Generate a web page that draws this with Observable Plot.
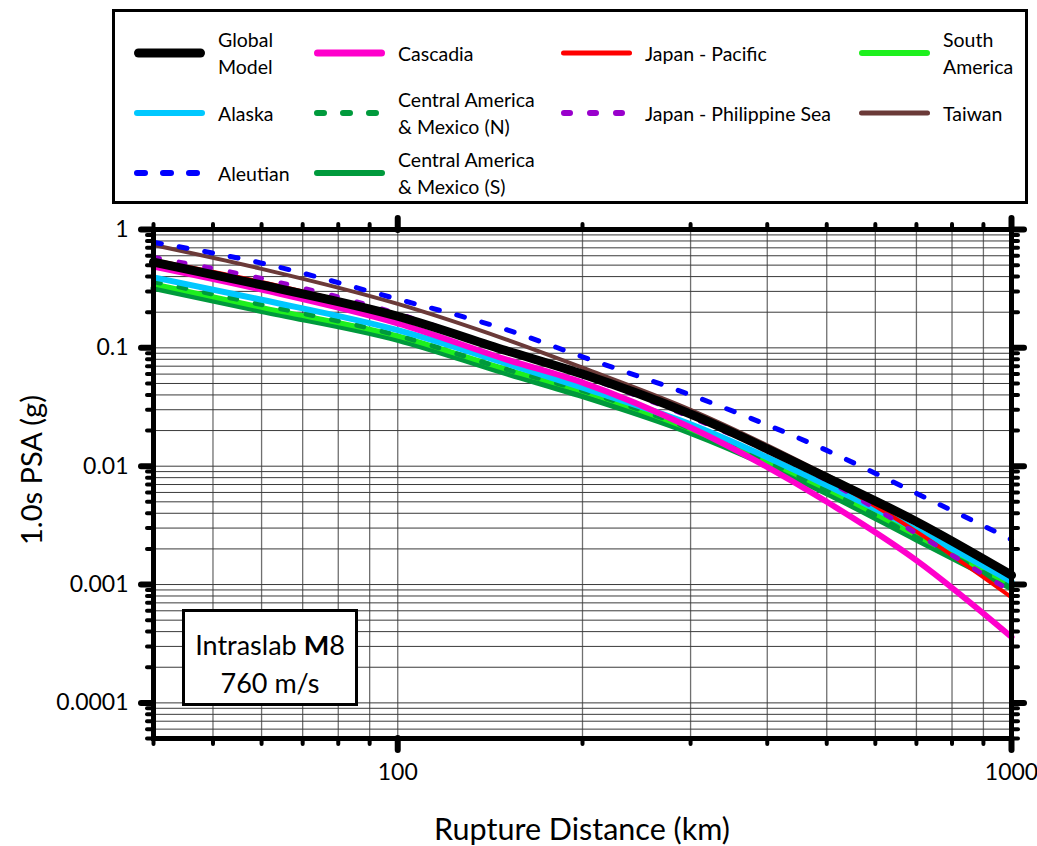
<!DOCTYPE html>
<html>
<head>
<meta charset="utf-8">
<script src="https://cdn.jsdelivr.net/npm/d3@7"></script>
<script src="https://cdn.jsdelivr.net/npm/@observablehq/plot@0.6"></script>
<style>
  body { margin: 0; background: #fff; font-family: Lato, "Open Sans", sans-serif; }
  #wrap { position: relative; width: 1037px; height: 846px; overflow: hidden; background: #fff; }
  #wrap svg.plot { position: absolute; left: 0; top: 0; }
  #legend { position: absolute; left: 112px; top: 9px; width: 910px; height: 189px; border: 3px solid #000; box-sizing: content-box; background: #fff; }
  .item { position: absolute; height: 0; }
  .item svg { position: absolute; left: 0; top: -8px; }
  .item .lab { position: absolute; left: 85px; transform: translateY(-50%); font-size: 19.5px; line-height: 27px; white-space: nowrap; color: #000; }
  #note { position: absolute; left: 182px; top: 609px; width: 170px; border: 3px solid #000; background: #fff; text-align: center; font-size: 27px; line-height: 38px; padding-top: 14px; height: 77px; box-sizing: content-box; }
  #xlab { position: absolute; left: 0; width: 1164px; top: 810px; text-align: center; font-size: 30.5px; }
  #ylab { position: absolute; left: 30px; top: 470px; transform: translate(-50%, -50%) rotate(-90deg); font-size: 29px; white-space: nowrap; }
</style>
</head>
<body>
<div id="wrap"></div>
<script>
// ---- data ----
const distances = [40, 60, 100, 150, 200, 300, 500, 700, 1000];
const globalModel     = [0.53, 0.34, 0.185, 0.095, 0.060, 0.0275, 0.0080, 0.0034, 0.00120];
const alaska          = [0.394, 0.255, 0.141, 0.074, 0.046, 0.0226, 0.0069, 0.0029, 0.00106];
const aleutian        = [0.78, 0.52, 0.258, 0.143, 0.084, 0.040, 0.0136, 0.0059, 0.0024];
const cascadia        = [0.486, 0.31, 0.161, 0.080, 0.0508, 0.0212, 0.0050, 0.0016, 0.00036];
const camNorth        = [0.363, 0.232, 0.127, 0.066, 0.0435, 0.0207, 0.0063, 0.0025, 0.00095];
const camSouth        = [0.32, 0.205, 0.117, 0.061, 0.039, 0.0191, 0.0059, 0.0024, 0.00093];
const japanPacific    = [0.55, 0.36, 0.185, 0.093, 0.058, 0.0278, 0.0079, 0.0028, 0.00078];
const japanPhilippine = [0.58, 0.385, 0.194, 0.095, 0.058, 0.026, 0.0076, 0.0027, 0.00087];
const southAmerica    = [0.347, 0.22, 0.126, 0.066, 0.043, 0.0205, 0.0064, 0.0026, 0.00100];
const taiwan          = [0.74, 0.465, 0.235, 0.118, 0.068, 0.030, 0.0084, 0.0033, 0.00118];

const seriesNames = ["Global Model", "Alaska", "Aleutian", "Cascadia",
  "Central America & Mexico (N)", "Central America & Mexico (S)",
  "Japan - Pacific", "Japan - Philippine Sea", "South America", "Taiwan"];
const legendLines = [["Global", "Model"], ["Alaska"], ["Aleutian"], ["Cascadia"],
  ["Central America", "& Mexico (N)"], ["Central America", "& Mexico (S)"],
  ["Japan - Pacific"], ["Japan - Philippine Sea"], ["South", "America"], ["Taiwan"]];
const legendCol = [0, 0, 0, 1, 1, 1, 2, 2, 3, 3];
const legendRow = [0, 1, 2, 0, 1, 2, 0, 1, 0, 1];
const seriesValues = [globalModel, alaska, aleutian, cascadia, camNorth, camSouth,
  japanPacific, japanPhilippine, southAmerica, taiwan];

const xGridTicks = [40, 50, 60, 70, 80, 90, 100, 200, 300, 400, 500, 600, 700, 800, 900, 1000];
const xMajorTicks = [100, 1000];
const xTickLabels = ["100", "1000"];
const yGridTicks = [0.00005, 0.00006, 0.00007, 0.00008, 0.00009, 0.0001,
  0.0002, 0.0003, 0.0004, 0.0005, 0.0006, 0.0007, 0.0008, 0.0009, 0.001,
  0.002, 0.003, 0.004, 0.005, 0.006, 0.007, 0.008, 0.009, 0.01,
  0.02, 0.03, 0.04, 0.05, 0.06, 0.07, 0.08, 0.09, 0.1,
  0.2, 0.3, 0.4, 0.5, 0.6, 0.7, 0.8, 0.9, 1];
const yMajorTicks = [1, 0.1, 0.01, 0.001, 0.0001];
const yTickLabels = ["1", "0.1", "0.01", "0.001", "0.0001"];

// ---- styles ----
const styles = {
  "Global Model": {stroke: "#000000", width: 9, dash: null, lw: 9},
  "Alaska": {stroke: "#00C8FF", width: 6, dash: null, lw: 6},
  "Aleutian": {stroke: "#0000FF", width: 5, dash: "8,18", lw: 6},
  "Cascadia": {stroke: "#FF00CC", width: 6, dash: null, lw: 7},
  "Central America & Mexico (N)": {stroke: "#009A3C", width: 5, dash: "7,19", lw: 6},
  "Central America & Mexico (S)": {stroke: "#009A3C", width: 6, dash: null, lw: 6},
  "Japan - Pacific": {stroke: "#FF0000", width: 4, dash: null, lw: 5},
  "Japan - Philippine Sea": {stroke: "#9900CC", width: 5, dash: "6,20", lw: 6},
  "South America": {stroke: "#1EF01E", width: 5, dash: null, lw: 6},
  "Taiwan": {stroke: "#6B3A38", width: 4, dash: null, lw: 5}
};
const drawOrder = ["Central America & Mexico (S)", "South America", "Central America & Mexico (N)",
  "Alaska", "Cascadia", "Japan - Pacific", "Japan - Philippine Sea", "Taiwan",
  "Global Model", "Aleutian"];

const rows = [];
seriesNames.forEach((name, si) => {
  distances.forEach((d, i) => rows.push({series: name, d, v: seriesValues[si][i]}));
});

const lineMarks = drawOrder.map(name => {
  const s = styles[name];
  return Plot.line(rows.filter(r => r.series === name), {
    x: "d", y: "v", stroke: s.stroke, strokeWidth: s.width,
    strokeDasharray: s.dash, strokeLinecap: "round", strokeLinejoin: "round",
    curve: "monotone-x"
  });
});

const yLabelMap = new Map(yMajorTicks.map((t, i) => [t, yTickLabels[i]]));
const xLabelMap = new Map(xMajorTicks.map((t, i) => [t, xTickLabels[i]]));
const blank = () => "";
const tickStyle = {strokeLinecap: "round", label: null, tickFormat: blank, stroke: "#000"};

const plot = Plot.plot({
  width: 1037, height: 846,
  marginLeft: 153, marginRight: 26, marginTop: 229, marginBottom: 108,
  x: {type: "log", domain: [40, 1000]},
  y: {type: "log", domain: [0.00005, 1]},
  style: {fontFamily: "Lato, 'Open Sans', sans-serif", background: "white", color: "#000"},
  marks: [
    Plot.gridX(xGridTicks, {stroke: "#707070", strokeOpacity: 1, strokeWidth: 1.3}),
    Plot.gridY(yGridTicks, {stroke: "#3a3a3a", strokeOpacity: 1, strokeWidth: 1}),
    ...lineMarks,
    Plot.frame({stroke: "#000", strokeWidth: 5}),
    // minor ticks
    Plot.axisX(xGridTicks, {anchor: "bottom", tickSize: 6, strokeWidth: 4, ...tickStyle}),
    Plot.axisX(xGridTicks, {anchor: "top", tickSize: 6, strokeWidth: 4, ...tickStyle}),
    Plot.axisY(yGridTicks, {anchor: "left", tickSize: 6, strokeWidth: 4, ...tickStyle}),
    Plot.axisY(yGridTicks, {anchor: "right", tickSize: 6, strokeWidth: 4, ...tickStyle}),
    // major ticks
    Plot.axisX(xMajorTicks, {anchor: "bottom", tickSize: 12, strokeWidth: 6, ...tickStyle}),
    Plot.axisX(xMajorTicks, {anchor: "top", tickSize: 12, strokeWidth: 6, ...tickStyle}),
    Plot.axisY(yMajorTicks, {anchor: "left", tickSize: 12, strokeWidth: 6, ...tickStyle}),
    Plot.axisY(yMajorTicks, {anchor: "right", tickSize: 12, strokeWidth: 6, ...tickStyle}),
    // labels
    Plot.axisX(xMajorTicks, {anchor: "bottom", tickSize: 0, tickPadding: 25, fontSize: 23, label: null,
      tickFormat: d => xLabelMap.get(d)}),
    Plot.axisY(yMajorTicks, {anchor: "left", tickSize: 0, tickPadding: 25, fontSize: 23, label: null,
      tickFormat: d => yLabelMap.get(d)})
  ]
});
plot.classList.add("plot");

const wrap = document.getElementById("wrap");
wrap.appendChild(plot);

// ---- legend ----
const legend = document.createElement("div");
legend.id = "legend";
wrap.appendChild(legend);
const colX = [18, 198, 445, 743];
const rowY = [41, 101, 161];
seriesNames.forEach((name, i) => {
  const s = styles[name];
  const item = document.createElement("div");
  item.className = "item";
  item.style.left = colX[legendCol[i]] + "px";
  item.style.top = rowY[legendRow[i]] + "px";
  const dash = s.dash ? `stroke-dasharray="${s.dash}"` : "";
  item.innerHTML = `<svg width="80" height="16"><line x1="${s.lw/2 + 1}" y1="8" x2="${72 - s.lw/2}" y2="8" stroke="${s.stroke}" stroke-width="${s.lw}" stroke-linecap="round" ${dash}/></svg>` +
    `<div class="lab">${legendLines[i].join("<br>")}</div>`;
  legend.appendChild(item);
});

// ---- annotation & axis titles ----
const note = document.createElement("div");
note.id = "note";
note.innerHTML = "Intraslab <b>M</b>8<br>760 m/s";
wrap.appendChild(note);

const xlab = document.createElement("div");
xlab.id = "xlab";
xlab.textContent = "Rupture Distance (km)";
wrap.appendChild(xlab);

const ylab = document.createElement("div");
ylab.id = "ylab";
ylab.textContent = "1.0s PSA (g)";
wrap.appendChild(ylab);
</script>
</body>
</html>
